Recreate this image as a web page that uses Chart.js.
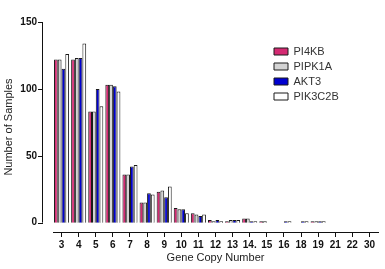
<!DOCTYPE html>
<html>
<head>
<meta charset="utf-8">
<script src="https://cdn.jsdelivr.net/npm/chart.js@4/dist/chart.umd.min.js"></script>
<style>
  body { margin: 0; background: #fff; }
  #wrap { width: 385px; height: 269px; }
</style>
</head>
<body>
<div id="wrap"><canvas id="copyChart" width="385" height="269"></canvas></div>
<script>
// gene copy number categories (x axis)
const copyNumbers = ['3', '4', '5', '6', '7', '8', '9', '10', '11', '12', '13', '14.', '15', '16', '18', '19', '21', '22', '30'];

// number of samples per copy number, one array per gene
const pi4kb   = [122, 122, 83, 103, 36, 15, 23, 11, 7, 2, 1, 3, 1, null, null, 1, null, null, null];
const pipk1a  = [122, 123, 83, 103, 36, 15, 24, 10, 6, 1, 2, 3, 1, null, null, 1, null, null, null];
const akt3    = [115, 123, 100, 102, 42, 22, 19, 10, 5, 2, 2, 1, null, 1, 1, 1, null, null, null];
const pik3c2b = [126, 134, 87, 98, 43, 21, 27, 7, 6, 1, 2, 1, null, 1, 1, 1, null, null, null];

const yTicks = [0, 50, 100, 150];

const FONT = "'Liberation Sans', Arial, sans-serif";

// y axis is drawn a little left of the plot, x axis a little below zero
const offsetAxes = {
  id: 'offsetAxes',
  afterLayout(chart) {
    const lg = chart.legend;
    lg.left = 270; lg.top = 42;
    lg.right = lg.left + lg.width; lg.bottom = lg.top + lg.height;
  },
  afterDraw(chart) {
    const y = chart.scales.y;
    const ctx = chart.ctx;
    const ax = chart.chartArea.left - 11;
    ctx.save();
    ctx.strokeStyle = '#111';
    ctx.lineWidth = 1;
    ctx.beginPath();
    ctx.moveTo(ax + 0.5, y.getPixelForValue(150));
    ctx.lineTo(ax + 0.5, y.getPixelForValue(0));
    yTicks.forEach(v => {
      const py = Math.round(y.getPixelForValue(v)) + 0.5;
      ctx.moveTo(ax - 4, py);
      ctx.lineTo(ax + 1, py);
    });
    ctx.stroke();
    ctx.restore();
  }
};

const mk = (label, data, color) => ({
  label: label,
  data: data,
  backgroundColor: color,
  borderColor: '#1a1a1a',
  borderWidth: 1,
  categoryPercentage: 0.88,
  barPercentage: 1
});

new Chart(document.getElementById('copyChart'), {
  type: 'bar',
  data: {
    labels: copyNumbers,
    datasets: [
      mk('PI4KB', pi4kb, '#d42a72'),
      mk('PIPK1A', pipk1a, '#d4d4d4'),
      mk('AKT3', akt3, '#0000d0'),
      mk('PIK3C2B', pik3c2b, '#ffffff')
    ]
  },
  options: {
    responsive: false,
    animation: false,
    layout: { padding: { top: 7, right: 7, left: 0, bottom: 0 } },
    plugins: {
      tooltip: { enabled: false },
      legend: {
        position: 'chartArea',
        align: 'start',
        labels: {
          boxWidth: 14,
          boxHeight: 7,
          padding: 4,
          color: '#333',
          font: { family: FONT, size: 11 }
        }
      }
    },
    scales: {
      x: {
        grid: { display: true, drawOnChartArea: false, offset: false, drawTicks: true, tickLength: 5, color: '#111' },
        border: { display: true, color: '#111', width: 1 },
        ticks: { color: '#111', padding: 2, maxRotation: 0, autoSkip: false, font: { family: FONT, size: 10, weight: 'bold' } },
        title: { display: true, text: 'Gene Copy Number', color: '#222', padding: 4, font: { family: FONT, size: 11 } },
        afterFit(s) { s.height = 37; }
      },
      y: {
        min: -7,
        max: 150,
        grid: { display: false, drawTicks: false },
        border: { display: false },
        afterBuildTicks(s) { s.ticks = yTicks.map(v => ({ value: v })); },
        ticks: { color: '#111', padding: 16, font: { family: FONT, size: 10, weight: 'bold' } },
        title: { display: true, text: 'Number of Samples', color: '#222', padding: 2, font: { family: FONT, size: 11 } },
        afterFit(s) { s.width = 53; }
      }
    }
  },
  plugins: [offsetAxes]
});
</script>
</body>
</html>
